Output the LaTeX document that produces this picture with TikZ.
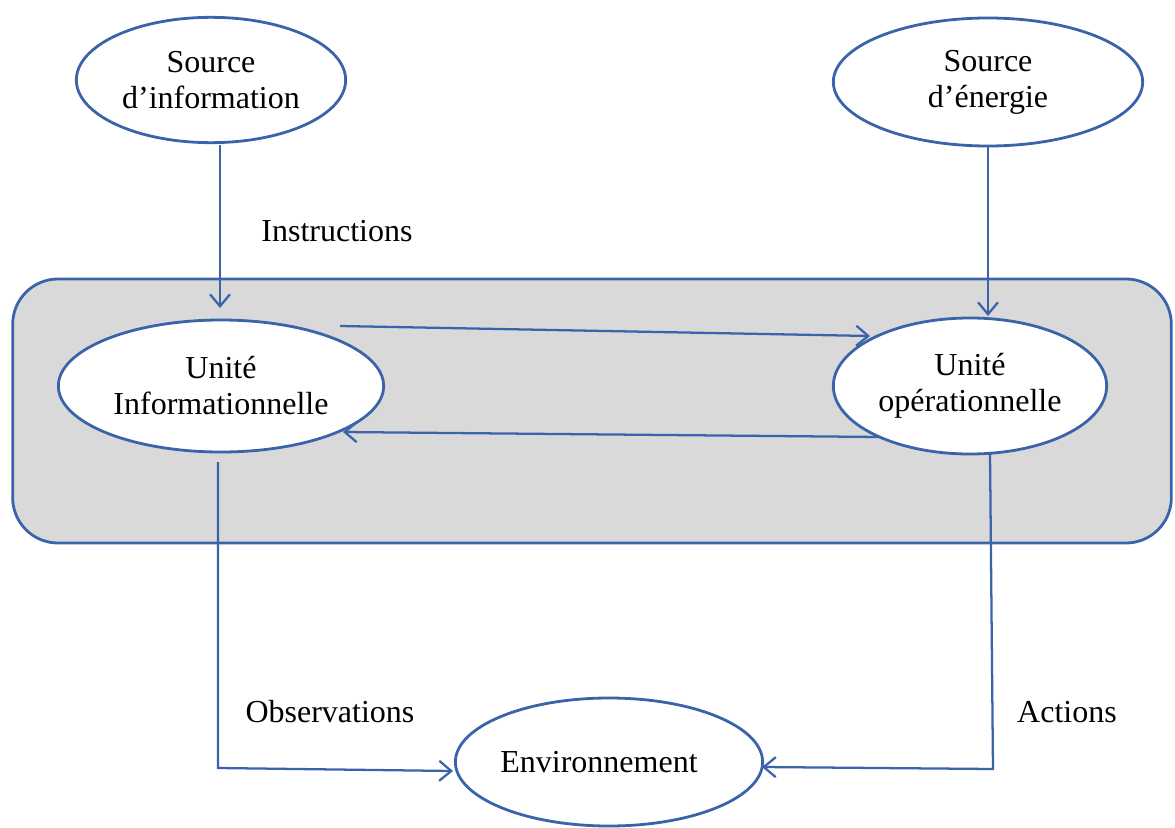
\documentclass[tikz,border=0pt]{standalone}
\usepackage{fontspec}
\setmainfont{Liberation Serif}
\usetikzlibrary{shapes.geometric,arrows.meta}
\definecolor{lineblue}{RGB}{58,100,170}
\definecolor{boxgray}{RGB}{217,217,217}
\begin{document}
\begin{tikzpicture}[x=0.75pt,y=-0.75pt,
  oval/.style={ellipse,draw=lineblue,line width=2.1pt,fill=white,inner sep=0pt,align=center,font=\fontsize{24}{27}\selectfont},
  arr/.style={draw=lineblue,line width=1.7pt,-{Straight Barb[length=9pt,width=15pt,line width=1.7pt]}},
  lbl/.style={font=\fontsize{24}{27}\selectfont,inner sep=0pt}]
\useasboundingbox (0,0) rectangle (1175,828);
\node[draw=lineblue,line width=2.1pt,fill=boxgray,rounded corners=34pt,minimum width=869pt,minimum height=198pt,inner sep=0pt] (box) at (592,411) {};
\node[oval,minimum width=202pt,minimum height=94pt] (sinfo) at (211,80) {Source\\d’information};
\node[oval,minimum width=232pt,minimum height=96pt] (senergy) at (988,82) {Source\\d’énergie};
\node[oval,minimum width=244pt,minimum height=99pt] (uinfo) at (221,386) {Unité\\Informationnelle};
\node[oval,minimum width=205pt,minimum height=102pt] (uop) at (970,386) {Unité\\opérationnelle};
\node[oval,minimum width=229pt,minimum height=96pt] (env) at (609,762) {Environnement\hspace*{15pt}};
\node[lbl] (linstr) at (337,231) {Instructions};
\node[lbl] (lobs) at (330,712) {Observations};
\node[lbl] (lact) at (1067,712) {Actions};
\coordinate (i1) at (220,145);
\coordinate (i2) at (220,308);
\coordinate (e1) at (988,147);
\coordinate (e2) at (988,316);
\coordinate (t1) at (340,326);
\coordinate (t2) at (870,336);
\coordinate (b1) at (880,437);
\coordinate (b2) at (343,432);
\coordinate (o1) at (218,462);
\coordinate (o2) at (218,768);
\coordinate (o3) at (453,771);
\coordinate (a1) at (990,452);
\coordinate (a2) at (993,769);
\coordinate (a3) at (762,767);
\draw[arr] (i1) -- (i2);
\draw[arr] (e1) -- (e2);
\draw[arr] (t1) -- (t2);
\draw[arr] (b1) -- (b2);
\draw[arr] (o1) -- (o2) -- (o3);
\draw[arr] (a1) -- (a2) -- (a3);
\end{tikzpicture}
\end{document}
